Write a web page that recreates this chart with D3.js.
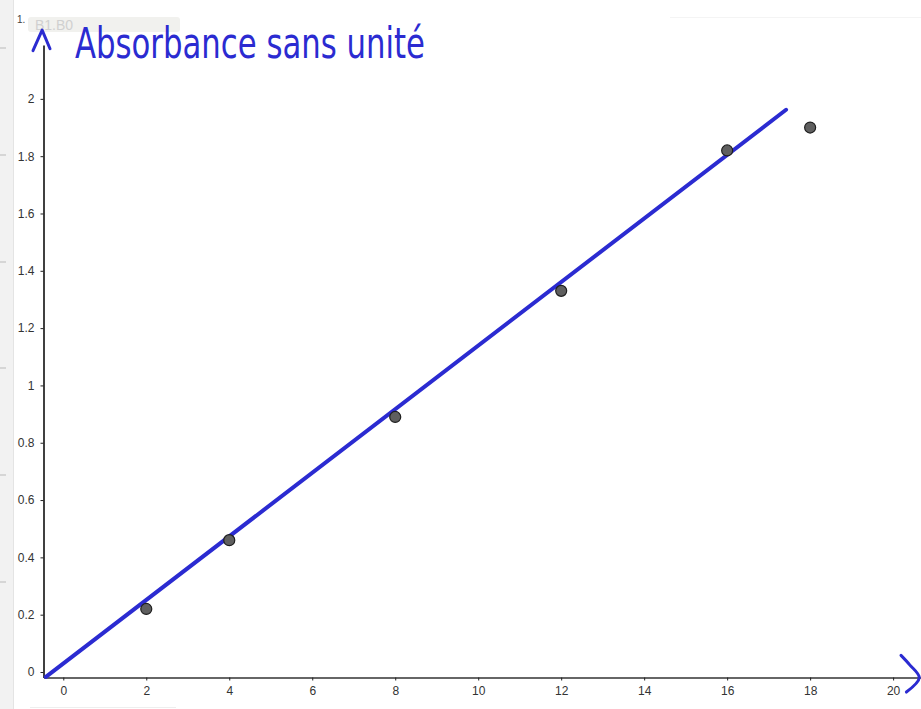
<!DOCTYPE html>
<html>
<head>
<meta charset="utf-8">
<script src="https://cdn.jsdelivr.net/npm/d3@7"></script>
<style>
    html, body { margin: 0; padding: 0; background: #fff; }
    svg { display: block; }
    .tick text { font-family: 'Liberation Sans', Arial, sans-serif; font-size: 12px; fill: #333; }
</style>
</head>
<body>
<div class="js-chart"></div>
<script>
'use strict';

//measured values (concentration, absorbance)
var concentrations = [2, 4, 8, 12, 16, 18];
var absorbances = [0.22, 0.46, 0.89, 1.33, 1.82, 1.90];

//hand-drawn fit line, ends in data units
var fitX = [-0.42, 17.42];
var fitY = [-0.017, 1.962];

var xTicks = [0, 2, 4, 6, 8, 10, 12, 14, 16, 18, 20];
var yTicks = [0, 0.2, 0.4, 0.6, 0.8, 1, 1.2, 1.4, 1.6, 1.8, 2];

//handwritten notes
var yAxisNote = 'Absorbance sans unité';
var upArrowX = [-0.73, -0.51, -0.32];
var upArrowY = [2.168, 2.24, 2.175];
var rightArrowX = [20.19, 20.4, 20.63, 20.32];
var rightArrowY = [0.058, 0.025, -0.02, -0.07];

var dim = { w: 921, h: 709 };
var ink = '#2b2bd1';

var svg = d3.select('.js-chart').append('svg')
    .attr('width', dim.w)
    .attr('height', dim.h);

var x = d3.scaleLinear().domain([-0.477, 20.672]).range([43.5, 921]);
var y = d3.scaleLinear().domain([-0.0192, 2.188]).range([677.5, 45]);

var fmt = function (d) { return String(+d.toFixed(1)); };

//leftover bits of the geogebra window
function drawChrome() {
    svg.append('rect')
        .attr('x', 0).attr('y', 0).attr('width', 13).attr('height', dim.h)
        .style('fill', '#f2f2f2');
    svg.append('line')
        .attr('x1', 13.5).attr('x2', 13.5).attr('y1', 0).attr('y2', dim.h)
        .style('stroke', '#e4e4e4');
    [48, 155, 262, 368, 475, 582].forEach(function (py) {
        svg.append('line')
            .attr('x1', 0).attr('x2', 6).attr('y1', py).attr('y2', py)
            .style('stroke', '#d6d6d6').style('stroke-width', 2);
    });
    svg.append('rect')
        .attr('x', 28).attr('y', 17).attr('width', 152).attr('height', 15).attr('rx', 3)
        .style('fill', '#f1f1ee');
    svg.append('text')
        .attr('x', 35).attr('y', 30)
        .style('font-family', 'Liberation Sans, Arial, sans-serif')
        .style('font-size', '14px').style('fill', '#d0d0d0')
        .text('B1.B0');
    svg.append('text')
        .attr('x', 17).attr('y', 23)
        .style('font-family', 'Liberation Sans, Arial, sans-serif')
        .style('font-size', '10px').style('fill', '#444')
        .text('1.');
    svg.append('line')
        .attr('x1', 670).attr('x2', 921).attr('y1', 17.5).attr('y2', 17.5)
        .style('stroke', '#f4f4f4');
    svg.append('line')
        .attr('x1', 30).attr('x2', 176).attr('y1', 707.5).attr('y2', 707.5)
        .style('stroke', '#eeeeee');
}

function drawAxes() {
    var gx = svg.append('g')
        .attr('transform', 'translate(0,677.5)')
        .call(d3.axisBottom(x).tickValues(xTicks).tickFormat(fmt).tickSize(3).tickSizeOuter(0).tickPadding(6));
    gx.select('.domain').style('stroke', '#666').style('stroke-width', 2);
    gx.selectAll('.tick line').style('stroke', '#222');

    var gy = svg.append('g')
        .attr('transform', 'translate(43.5,0)')
        .call(d3.axisLeft(y).tickValues(yTicks).tickFormat(fmt).tickSize(3).tickSizeOuter(0).tickPadding(6));
    gy.select('.domain').style('stroke', '#000').style('stroke-width', 1.5);
    gy.selectAll('.tick line').style('stroke', '#222');
}

function drawFit() {
    svg.append('line')
        .attr('x1', x(fitX[0])).attr('y1', y(fitY[0]))
        .attr('x2', x(fitX[1])).attr('y2', y(fitY[1]))
        .style('stroke', ink)
        .style('stroke-width', 4)
        .style('stroke-linecap', 'round');
}

function drawPoints() {
    svg.selectAll('.js-pt')
        .data(concentrations)
        .enter()
        .append('circle')
        .attr('class', 'js-pt')
        .attr('cx', function (d) { return x(d); })
        .attr('cy', function (d, i) { return y(absorbances[i]); })
        .attr('r', 5.5)
        .style('fill', '#5f5f5f')
        .style('stroke', '#1e1e1e')
        .style('stroke-width', 1.2);
}

function drawNotes() {
    var line = d3.line().curve(d3.curveCatmullRom);

    svg.append('path')
        .attr('d', d3.line()(upArrowX.map(function (v, i) { return [x(v), y(upArrowY[i])]; })))
        .style('fill', 'none').style('stroke', ink).style('stroke-width', 3)
        .style('stroke-linecap', 'round').style('stroke-linejoin', 'round');

    svg.append('path')
        .attr('d', line(rightArrowX.map(function (v, i) { return [x(v), y(rightArrowY[i])]; })))
        .style('fill', 'none').style('stroke', ink).style('stroke-width', 3)
        .style('stroke-linecap', 'round').style('stroke-linejoin', 'round');

    svg.append('text')
        .attr('x', 75).attr('y', 58)
        .attr('textLength', 350)
        .attr('lengthAdjust', 'spacingAndGlyphs')
        .style('font-family', 'DejaVu Sans Condensed, DejaVu Sans, sans-serif')
        .style('font-weight', 200)
        .style('font-size', '42px')
        .style('fill', ink)
        .text(yAxisNote);
}

drawChrome();
drawAxes();
drawFit();
drawPoints();
drawNotes();
</script>
</body>
</html>
